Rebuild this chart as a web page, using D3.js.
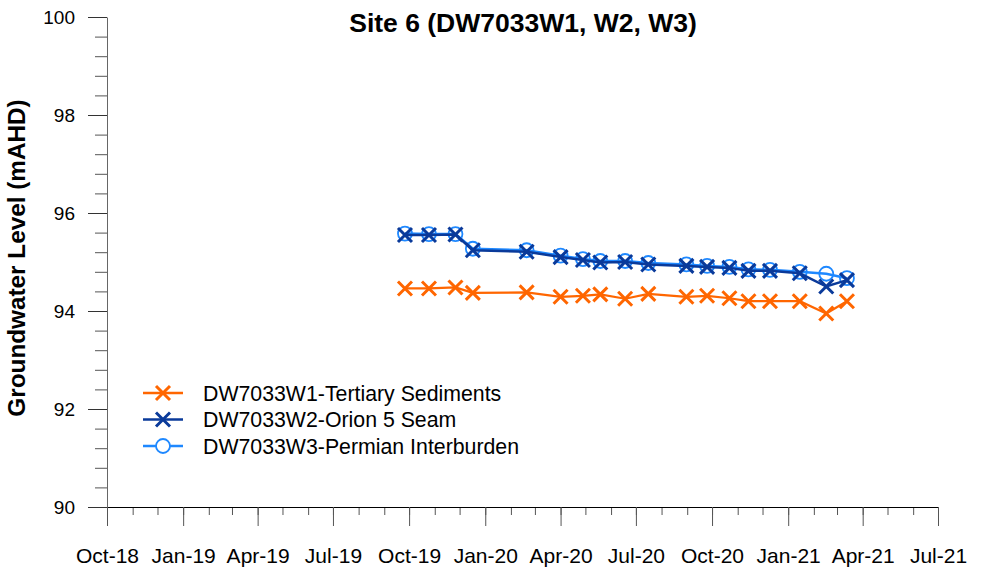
<!DOCTYPE html>
<html>
<head>
<meta charset="utf-8">
<script src="https://cdn.jsdelivr.net/npm/d3@7"></script>
<style>
  body { margin: 0; background: #fff; }
  text { font-family: Arial, "Liberation Sans", sans-serif; }
</style>
</head>
<body>
<script>
// sampling dates and levels (mAHD)
const dates = ["2019-09-26","2019-10-25","2019-11-26","2019-12-17","2020-02-20","2020-04-01","2020-04-28","2020-05-19","2020-06-18","2020-07-16","2020-08-31","2020-09-25","2020-10-22","2020-11-14","2020-12-10","2021-01-15","2021-02-16","2021-03-13"];
const w1 = [94.46,94.46,94.48,94.37,94.38,94.29,94.31,94.34,94.25,94.35,94.29,94.31,94.26,94.20,94.20,94.20,93.95,94.20];
const w2 = [95.55,95.55,95.56,95.24,95.21,95.10,95.04,94.99,95.00,94.95,94.92,94.90,94.88,94.82,94.82,94.77,94.50,94.63];
const w3 = [95.58,95.57,95.57,95.27,95.24,95.13,95.06,95.02,95.02,94.98,94.95,94.92,94.90,94.85,94.84,94.80,94.76,94.67];
const seriesNames = ["DW7033W1-Tertiary Sediments", "DW7033W2-Orion 5 Seam", "DW7033W3-Permian Interburden"];
const yTicks = [90, 92, 94, 96, 98, 100];

const w = 989, h = 572;
const parse = d3.timeParse("%Y-%m-%d");
const xs = dates.map(parse);

const svg = d3.select("body").append("svg")
  .attr("width", w)
  .attr("height", h);

const x = d3.scaleTime()
  .domain([new Date(2018, 9, 1), new Date(2021, 6, 1)])
  .range([107, 938]);
const y = d3.scaleLinear()
  .domain([90, 100])
  .range([507, 17]);

// y axis, minor then major
const yMinor = d3.range(90, 100.01, 0.4);
svg.append("g")
  .attr("transform", "translate(107,0)")
  .call(d3.axisLeft(y).tickValues(yMinor).tickSize(12).tickFormat(""))
  .call(g => g.selectAll("line").attr("stroke", "#555"))
  .call(g => g.select(".domain").remove());
svg.append("g")
  .attr("transform", "translate(107,0)")
  .call(d3.axisLeft(y).tickValues(yTicks).tickSize(19).tickPadding(13).tickSizeOuter(0))
  .call(g => g.selectAll("line").attr("stroke", "#333"))
  .call(g => g.select(".domain").attr("stroke", "#666"))
  .call(g => g.selectAll("text").style("font-size", "19px").attr("fill", "#000"));

// x axis
svg.append("g")
  .attr("transform", "translate(0,507)")
  .call(d3.axisBottom(x).ticks(d3.timeMonth.every(1)).tickSize(8).tickFormat(""))
  .call(g => g.selectAll("line").attr("stroke", "#555"))
  .call(g => g.select(".domain").remove());
svg.append("g")
  .attr("transform", "translate(0,507)")
  .call(d3.axisBottom(x).ticks(d3.timeMonth.every(3)).tickSize(19).tickPadding(22)
    .tickSizeOuter(0).tickFormat(d3.timeFormat("%b-%y")))
  .call(g => g.selectAll("line").attr("stroke", "#555"))
  .call(g => g.select(".domain").attr("stroke", "#000"))
  .call(g => g.selectAll("text").style("font-size", "21px").attr("fill", "#000"));

// titles
svg.append("text")
  .attr("x", 523).attr("y", 32)
  .attr("text-anchor", "middle")
  .style("font-size", "26.5px").style("font-weight", "bold")
  .text("Site 6 (DW7033W1, W2, W3)");
svg.append("text")
  .attr("transform", "translate(25,258) rotate(-90)")
  .attr("text-anchor", "middle")
  .style("font-size", "24.3px").style("font-weight", "bold")
  .text("Groundwater Level (mAHD)");

const line = d3.line()
  .x((d, i) => x(xs[i]))
  .y(d => y(d));

function crosses(g, data, color) {
  g.selectAll(null).data(data).enter().append("path")
    .attr("d", "M-7,-7L7,7M-7,7L7,-7")
    .attr("transform", (d, i) => "translate(" + x(xs[i]) + "," + y(d) + ")")
    .attr("stroke", color)
    .attr("stroke-width", 3)
    .attr("fill", "none");
}

// W3 first so W2 crosses sit on top
const g3 = svg.append("g");
g3.append("path").datum(w3).attr("d", line)
  .attr("fill", "none").attr("stroke", "#1e88ff").attr("stroke-width", 2.5);
g3.selectAll(null).data(w3).enter().append("circle")
  .attr("cx", (d, i) => x(xs[i]))
  .attr("cy", d => y(d))
  .attr("r", 7)
  .attr("fill", "none")
  .attr("stroke", "#1e88ff")
  .attr("stroke-width", 1.8);

const g2 = svg.append("g");
g2.append("path").datum(w2).attr("d", line)
  .attr("fill", "none").attr("stroke", "#0a3a9a").attr("stroke-width", 2.5);
crosses(g2, w2, "#0a3a9a");

const g1 = svg.append("g");
g1.append("path").datum(w1).attr("d", line)
  .attr("fill", "none").attr("stroke", "#ff6600").attr("stroke-width", 2.2);
crosses(g1, w1, "#ff6600");

// legend
const legendColors = ["#ff6600", "#0a3a9a", "#1e88ff"];
const legendY = [393, 419.5, 446];
const legend = svg.selectAll(".legend")
  .data(seriesNames)
  .enter().append("g")
  .attr("class", "legend")
  .attr("transform", (d, i) => "translate(0," + legendY[i] + ")");
legend.append("line")
  .attr("x1", 143).attr("x2", 183)
  .attr("stroke", (d, i) => legendColors[i])
  .attr("stroke-width", 2.5);
legend.each(function(d, i) {
  const g = d3.select(this);
  if (i < 2) {
    g.append("path").attr("d", "M156,-7L170,7M156,7L170,-7")
      .attr("stroke", legendColors[i]).attr("stroke-width", 3);
  } else {
    g.append("circle").attr("cx", 163).attr("cy", 0).attr("r", 7)
      .attr("fill", "#fff").attr("stroke", legendColors[i]).attr("stroke-width", 1.8);
  }
});
legend.append("text")
  .attr("x", 203).attr("y", 7.5)
  .style("font-size", "21.3px")
  .text(d => d);
</script>
</body>
</html>
